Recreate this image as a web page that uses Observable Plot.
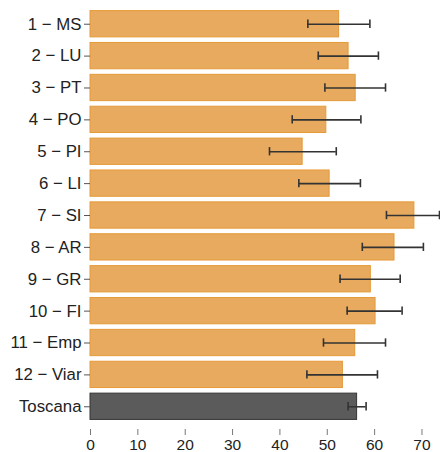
<!DOCTYPE html>
<html>
<head>
<meta charset="utf-8">
<script src="https://cdn.jsdelivr.net/npm/d3@7"></script>
<script src="https://cdn.jsdelivr.net/npm/@observablehq/plot@0.6"></script>
<style>
  html, body { margin: 0; padding: 0; background: #fff; }
  #chart svg { display: block; }
</style>
</head>
<body>
<div id="chart"></div>
<script>
// Areas (health districts) and the regional total
const areas = ["1 − MS", "2 − LU", "3 − PT", "4 − PO", "5 − PI", "6 − LI", "7 − SI",
               "8 − AR", "9 − GR", "10 − FI", "11 − Emp", "12 − Viar", "Toscana"];
// Point estimate and confidence interval bounds
const values = [52.5, 54.5, 56.0, 49.8, 44.8, 50.5, 68.4, 64.2, 59.2, 60.2, 55.9, 53.3, 56.3];
const lower  = [45.9, 48.1, 49.5, 42.6, 37.8, 44.0, 62.5, 57.4, 52.7, 54.2, 49.2, 45.7, 54.4];
const upper  = [59.0, 60.8, 62.3, 57.1, 51.9, 57.0, 73.7, 70.3, 65.4, 65.8, 62.3, 60.6, 58.2];
const xTicks = [0, 10, 20, 30, 40, 50, 60, 70];

const rows = areas.map((area, i) => ({
  area, value: values[i], lo: lower[i], hi: upper[i], total: area === "Toscana"
}));

const chart = Plot.plot({
  width: 440,
  height: 452,
  marginLeft: 90,
  marginRight: 1,
  marginTop: 5,
  marginBottom: 23,
  style: { fontFamily: "Liberation Sans, Arial, sans-serif", fontSize: "16px", color: "#222", overflow: "visible" },
  x: { domain: [0, d3.max(upper)], ticks: xTicks, label: null },
  y: { domain: areas, padding: 0.175, round: false, insetBottom: 4, label: null },
  marks: [
    Plot.barX(rows, {
      x: "value", y: "area",
      fill: d => d.total ? "#5b5b5b" : "#e8aa5e",
      stroke: d => d.total ? "#353535" : "#e59a38",
      strokeWidth: 1
    }),
    Plot.ruleY(rows, { y: "area", x1: "lo", x2: "hi", stroke: "#333", strokeWidth: 1.6 }),
    Plot.tickX(rows, { x: "lo", y: "area", stroke: "#333", strokeWidth: 1.6, insetTop: 9, insetBottom: 9 }),
    Plot.tickX(rows, { x: "hi", y: "area", stroke: "#333", strokeWidth: 1.6, insetTop: 9, insetBottom: 9 }),
    Plot.axisY({ tickSize: 6, tickPadding: 3, stroke: "#555", fill: "#222", fontSize: 16.8 }),
    Plot.axisX({ ticks: xTicks, tickSize: 6, tickPadding: 3, stroke: "#777", fill: "#222", fontSize: 15.5 })
  ]
});

document.getElementById("chart").append(chart);
</script>
</body>
</html>
